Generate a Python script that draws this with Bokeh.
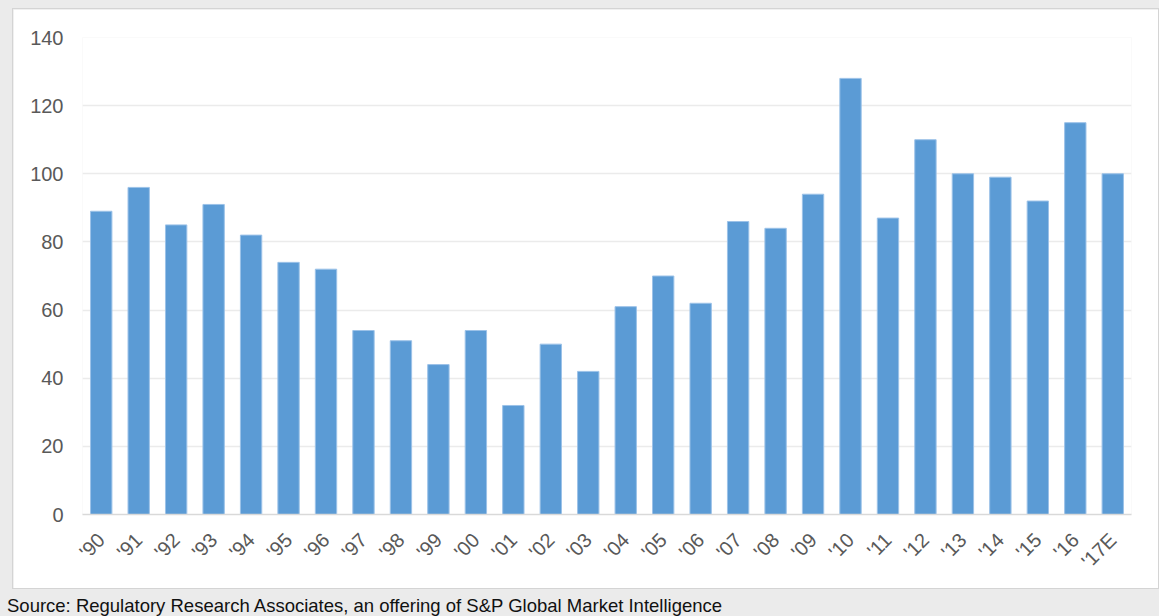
import math
from bokeh.plotting import figure
from bokeh.models import (FactorRange, Range1d, FixedTicker, Div, ColumnDataSource,
                          GlobalInlineStyleSheet)
from bokeh.layouts import column
from bokeh.embed import file_html
from bokeh.resources import INLINE

# ---- data ----
years = ["'90", "'91", "'92", "'93", "'94", "'95", "'96", "'97", "'98", "'99",
         "'00", "'01", "'02", "'03", "'04", "'05", "'06", "'07", "'08", "'09",
         "'10", "'11", "'12", "'13", "'14", "'15", "'16", "'17E"]
counts = [89, 96, 85, 91, 82, 74, 72, 54, 51, 44,
          54, 32, 50, 42, 61, 70, 62, 86, 84, 94,
          128, 87, 110, 100, 99, 92, 115, 100]
y_ticks = [0, 20, 40, 60, 80, 100, 120, 140]
source_text = "Source: Regulatory Research Associates, an offering of S&P Global Market Intelligence"

FONT = "Liberation Sans"

src = ColumnDataSource(dict(x=years, top=counts))

p = figure(x_range=FactorRange(*years, range_padding=0), y_range=Range1d(0, 140),
           frame_width=1049, frame_height=477,
           min_border_left=69, min_border_right=27, min_border_top=28, min_border_bottom=74,
           output_backend="svg", toolbar_location=None,
           margin=(9, 0, 0, 13),
           styles={"box-shadow": "0 0 0 1px #d4d4d4"})
p.background_fill_color = "white"
p.border_fill_color = "white"
p.outline_line_color = None

p.vbar(x="x", top="top", width=0.57, source=src,
       fill_color="#5b9bd5", line_color="#9cc2e8", line_width=1)

p.xgrid.grid_line_color = None
p.ygrid.grid_line_color = "#ebebeb"
p.ygrid.grid_line_width = 1.5

p.yaxis.ticker = FixedTicker(ticks=y_ticks)
p.yaxis.axis_line_color = None
p.yaxis.major_tick_line_color = None
p.yaxis.minor_tick_line_color = None
p.yaxis.major_tick_out = 0
p.yaxis.major_label_standoff = 19
p.yaxis.major_label_text_font = FONT
p.yaxis.major_label_text_font_size = "20px"
p.yaxis.major_label_text_color = "#595959"

p.xaxis.axis_line_color = "#d9d9d9"
p.xaxis.axis_line_width = 1.5
p.xaxis.major_tick_line_color = None
p.xaxis.minor_tick_line_color = None
p.xaxis.major_tick_out = 0
p.xaxis.major_label_orientation = math.pi / 4
p.xaxis.major_label_standoff = 22
p.xaxis.major_label_text_font = FONT
p.xaxis.major_label_text_font_size = "20px"
p.xaxis.major_label_text_color = "#595959"

note = Div(text=source_text, margin=(5, 0, 0, 7),
           styles={"font-family": FONT, "font-size": "18.5px", "color": "#111111",
                   "white-space": "nowrap"})

page_css = GlobalInlineStyleSheet(css="body{background-color:#ebebeb;}")
layout = column(p, note, spacing=0, stylesheets=[page_css],
                styles={"background-color": "#ebebeb"})

open("out.html", "w").write(file_html(layout, INLINE))
